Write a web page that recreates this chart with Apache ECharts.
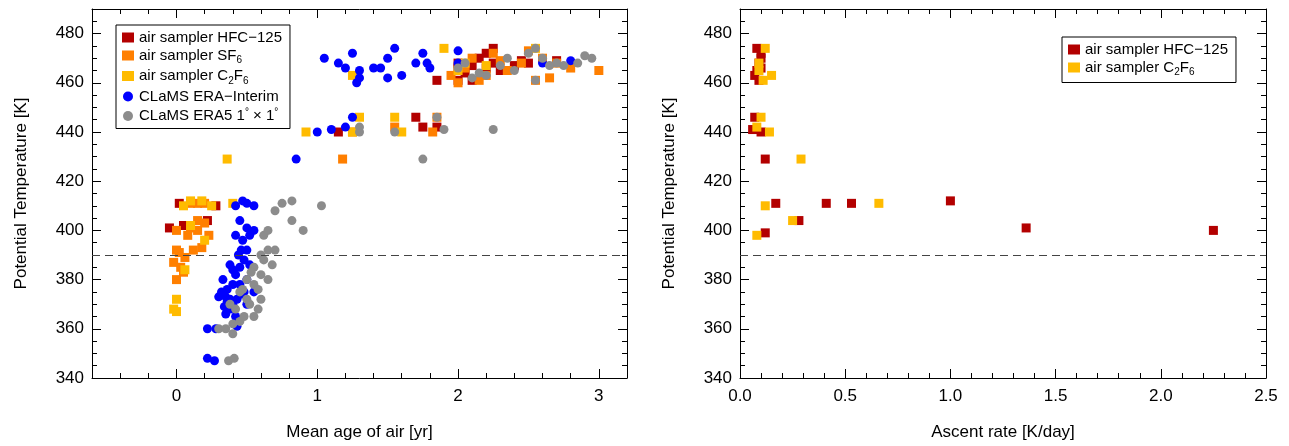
<!DOCTYPE html><html><head><meta charset="utf-8"><script src="https://cdn.jsdelivr.net/npm/echarts@6/dist/echarts.min.js"></script>
<style>body{margin:0}#c{width:1289px;height:446px}</style></head><body><div id="c"></div><script>
const hfcLeft=[[-0.05,401],[0.02,411],[0.28,410],[0.05,402],[0.22,404],[1.15,440],[1.7,446],[1.75,442],[1.85,461],[1.85,442],[2.0,466],[2.0,468],[2.05,464],[2.1,467],[2.15,470],[2.2,472],[2.25,468],[2.25,474],[2.4,467],[2.45,469],[2.1,461],[2.2,466],[2.3,465],[2.0,461],[2.7,469],[2.5,468]];
const sf6Left=[[0.0,400],[0.1,411],[0.15,411],[0.2,411],[-0.02,387],[0.05,383],[0.0,380],[0.03,385],[0.08,398],[0.1,401],[0.15,400],[0.2,403],[0.23,398],[0.02,391],[0.06,389],[0.12,392],[0.18,393],[0.0,392],[0.15,404],[1.18,429],[1.25,440],[1.55,442],[1.82,440],[1.85,446],[1.95,463],[2.0,460],[2.05,466],[2.1,470],[2.2,463],[2.25,472],[2.35,465],[2.5,473],[2.55,461],[2.6,470],[2.65,462],[2.7,468],[2.8,466],[3.0,465],[2.3,469],[2.45,468],[2.15,461]];
const c2f6Left=[[-0.02,368],[0.0,372],[0.0,367],[0.06,384],[0.1,412],[0.18,412],[0.25,410],[0.05,410],[0.36,429],[0.4,411],[0.92,440],[1.25,463],[1.25,440],[1.3,446],[1.55,446],[1.6,440],[1.9,474],[2.0,465],[2.05,468],[2.2,467],[2.55,474],[0.1,402],[0.2,396]];
const eraiLeft=[[1.05,470],[1.15,468],[1.2,466],[1.25,472],[1.28,460],[1.3,465],[1.3,462],[1.4,466],[1.45,466],[1.5,470],[1.5,462],[1.55,474],[1.6,463],[1.7,468],[1.75,472],[1.78,468],[1.8,466],[0.85,429],[1.0,440],[1.1,441],[1.2,442],[1.25,446],[2.0,473],[2.0,468],[2.8,469],[2.6,468],[0.22,348],[0.27,347],[0.22,360],[0.28,360],[0.3,373],[0.35,373],[0.32,375],[0.38,372],[0.4,378],[0.42,382],[0.45,385],[0.4,370],[0.42,365],[0.38,368],[0.35,366],[0.33,380],[0.36,376],[0.44,390],[0.46,392],[0.48,388],[0.5,392],[0.47,396],[0.52,386],[0.5,380],[0.45,378],[0.43,372],[0.48,375],[0.5,370],[0.55,375],[0.43,361],[0.45,404],[0.5,401],[0.55,400],[0.52,398],[0.42,410],[0.47,412],[0.5,411],[0.55,410],[0.4,384],[0.38,386],[0.36,371],[0.42,398],[0.46,374],[0.34,369]];
const era5Left=[[1.3,440],[1.3,442],[1.55,440],[1.75,429],[1.85,446],[2.0,466],[2.05,468],[2.1,462],[2.2,463],[2.25,441],[2.3,467],[2.35,470],[2.4,465],[2.5,472],[2.55,474],[2.6,470],[2.7,468],[2.75,467],[2.85,468],[2.9,471],[2.95,470],[2.15,464],[2.55,461],[2.65,467],[1.9,441],[0.37,347],[0.41,348],[0.3,360],[0.35,360],[0.4,358],[0.45,363],[0.38,370],[0.42,368],[0.5,372],[0.55,378],[0.6,382],[0.55,385],[0.6,390],[0.65,392],[0.62,388],[0.58,376],[0.52,370],[0.48,365],[0.45,375],[0.5,380],[0.55,365],[0.6,372],[0.65,380],[0.68,386],[0.7,392],[0.62,398],[0.65,400],[0.7,408],[0.75,411],[0.82,412],[0.82,404],[0.9,400],[1.03,410],[0.58,368],[0.53,383],[0.47,376],[0.4,362]];
const hfcRight=[[0.08,474],[0.1,472],[0.1,470],[0.09,468],[0.08,465],[0.07,463],[0.09,461],[0.1,466],[0.06,441],[0.07,446],[0.1,440],[0.12,429],[0.17,411],[0.41,411],[0.53,411],[1.0,412],[0.28,404],[0.12,399],[1.36,401],[2.25,400]];
const c2f6Right=[[0.12,474],[0.09,468],[0.09,465],[0.15,463],[0.11,461],[0.1,446],[0.08,442],[0.14,440],[0.29,429],[0.12,410],[0.66,411],[0.25,404],[0.08,398]];
const leftMajor=[0,1,2,3];
const rightMajor=[0,0.5,1,1.5,2,2.5];

function steps(a,b,s){const r=[];for(let v=a;v<=b+1e-9;v+=s)r.push(Math.round(v*100)/100);return r;}
const F='Liberation Sans, Arial, sans-serif';
const black='#000';
function xax(gi,min,max,major,minor,pos,name,labels,fmt){
  return [
   {type:'value',gridIndex:gi,min,max,position:pos,name:labels?name:'',nameLocation:'middle',nameGap:46,nameTextStyle:{fontSize:17,color:black,fontFamily:F},
    axisLine:{show:true,onZero:false,lineStyle:{color:black,width:1}},splitLine:{show:false},
    axisTick:{show:true,inside:true,length:9,customValues:major,lineStyle:{color:black}},
    axisLabel:{show:labels,customValues:major,fontSize:17,color:black,fontFamily:F,margin:10,formatter:fmt}},
   {type:'value',gridIndex:gi,min,max,position:pos,axisLine:{show:false},splitLine:{show:false},
    axisTick:{show:true,inside:true,length:5,customValues:minor,lineStyle:{color:black}},axisLabel:{show:false}}
  ];
}
function yax(gi,pos,labels){
  return {type:'value',gridIndex:gi,min:340,max:490,interval:20,position:pos,name:labels?'Potential Temperature [K]':'',nameLocation:'middle',nameGap:62,
   nameTextStyle:{fontSize:17,color:black,fontFamily:F},
   axisLine:{show:true,onZero:false,lineStyle:{color:black}},splitLine:{show:false},
   axisTick:{show:true,inside:true,length:9,lineStyle:{color:black}},
   minorTick:{show:true,splitNumber:4,length:5,lineStyle:{color:black}},
   axisLabel:{show:labels,fontSize:17,color:black,fontFamily:F,margin:8,showMaxLabel:false}};
}
const xAxis=[
 ...xax(0,-0.6,3.2,leftMajor,steps(-0.6,3.2,0.2),'bottom','Mean age of air [yr]',true,v=>String(v)),
 ...xax(0,-0.6,3.2,leftMajor,steps(-0.6,3.2,0.2),'top','',false),
 ...xax(1,0,2.5,rightMajor,steps(0,2.5,0.1),'bottom','Ascent rate [K/day]',true,v=>v.toFixed(1)),
 ...xax(1,0,2.5,rightMajor,steps(0,2.5,0.1),'top','',false)
];
const yAxis=[yax(0,'left',true),yax(0,'right',false),yax(1,'left',true),yax(1,'right',false)];
function sc(name,data,xi,yi,sym,col,size){return {name,type:'scatter',xAxisIndex:xi,yAxisIndex:yi,data,symbol:sym,symbolSize:size,itemStyle:{color:col,opacity:1},z:3};}
const DR='#b30000',OR='#ff7f00',YE='#ffbb00',BL='#0000ff',GR='#8c8c8c';
const dash={silent:true,symbol:'none',label:{show:false},lineStyle:{color:'#444',type:[8,5],width:1},data:[{yAxis:390}]};
const series=[
 sc('n1',hfcLeft,0,0,'rect',DR,9),sc('n2',sf6Left,0,0,'rect',OR,9),sc('n3',c2f6Left,0,0,'rect',YE,9),
 sc('n4',eraiLeft,0,0,'circle',BL,9),sc('n5',era5Left,0,0,'circle',GR,9),
 sc('r1',hfcRight,4,2,'rect',DR,9),sc('r2',c2f6Right,4,2,'rect',YE,9)
];
series[0].markLine=dash; series[5].markLine=dash;
const rich={a:{fontSize:15,fontFamily:F,color:black},s:{fontSize:10,fontFamily:F,color:black,padding:[10,0,0,0]},p:{fontSize:10,fontFamily:F,color:black,padding:[0,0,8,0]}};
const lab={n1:'{a|air sampler HFC\u2212125}',n2:'{a|air sampler SF}{s|6}',n3:'{a|air sampler C}{s|2}{a|F}{s|6}',n4:'{a|CLaMS ERA\u2212Interim}',n5:'{a|CLaMS ERA5 1}{p|\u00b0}{a| \u00d7 1}{p|\u00b0}',r1:'{a|air sampler HFC\u2212125}',r2:'{a|air sampler C}{s|2}{a|F}{s|6}'};
const leg=(data,pos)=>Object.assign({data,orient:'vertical',borderColor:black,borderWidth:1,borderRadius:0,padding:[5,8,5,6],itemGap:3,itemWidth:12,itemHeight:10,
  formatter:n=>lab[n],textStyle:{rich}},pos);
const option={animation:false,backgroundColor:'#fff',
 grid:[{left:92,top:9,width:535,height:372},{left:740,top:9,width:526,height:372}],
 xAxis,yAxis,series,
 legend:[leg(['n1','n2','n3','n4','n5'],{left:116,top:25}),leg(['r1','r2'],{left:1062,top:37})]};
echarts.init(document.getElementById('c')).setOption(option);
</script></body></html>
